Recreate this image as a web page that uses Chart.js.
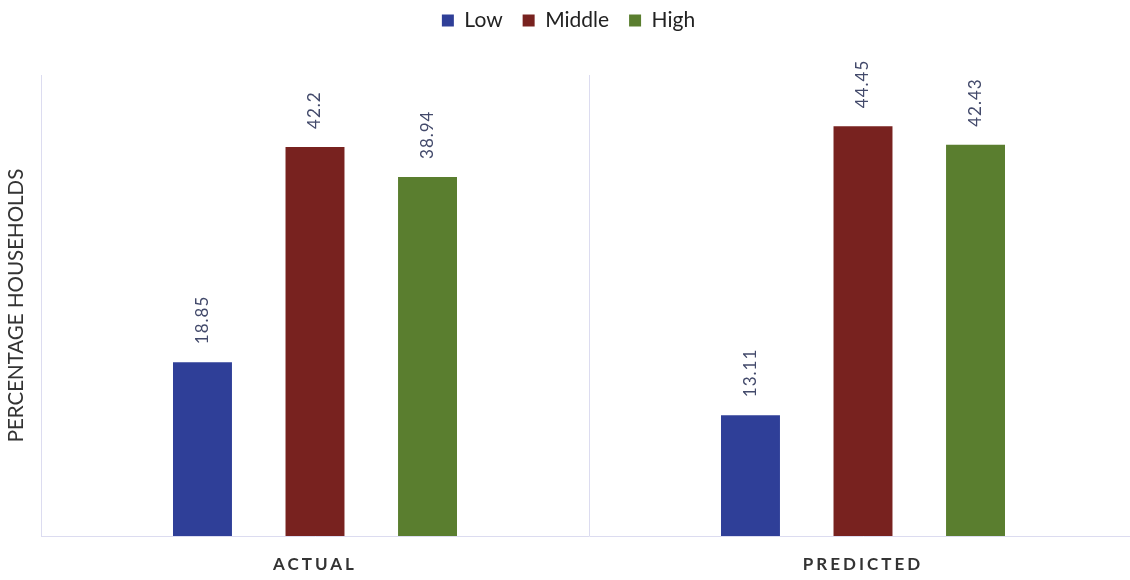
<!DOCTYPE html>
<html>
<head>
<meta charset="utf-8">
<script src="https://cdn.jsdelivr.net/npm/chart.js@4"></script>
<style>
  html, body { margin: 0; padding: 0; background: #fff; overflow: hidden; }
  #wrap { width: 1140px; height: 580px; }
</style>
</head>
<body>
<div id="wrap"><canvas id="dataChart" width="1140" height="580"></canvas></div>
<script>
// values
const groups = ["ACTUAL", "PREDICTED"];
const lowValues = [18.85, 13.11];
const middleValues = [42.2, 44.45];
const highValues = [38.94, 42.43];
const yMin = 0;
const yMax = 50;

const fontName = "Lato, 'Open Sans', sans-serif";

// rotated value labels above every bar
const barLabels = {
  id: "barLabels",
  afterDatasetsDraw(chart) {
    const ctx = chart.ctx;
    ctx.save();
    ctx.letterSpacing = "1px";
    ctx.font = "17px " + fontName;
    ctx.fillStyle = "#434a6b";
    ctx.textAlign = "left";
    ctx.textBaseline = "middle";
    chart.data.datasets.forEach((ds, i) => {
      chart.getDatasetMeta(i).data.forEach((bar, j) => {
        ctx.save();
        ctx.translate(bar.x, bar.y - 18);
        ctx.rotate(-Math.PI / 2);
        ctx.fillText(String(ds.data[j]), 0, 0);
        ctx.restore();
      });
    });
    ctx.restore();
    // x tick labels are drawn after this (ticks z = 1) and are letter spaced
    ctx.letterSpacing = "3px";
  },
  afterDraw(chart) {
    chart.ctx.letterSpacing = "0px";
  }
};

// more room between the legend and the plot
const legendGap = {
  id: "legendGap",
  beforeInit(chart) {
    const fit = chart.legend.fit;
    chart.legend.fit = function () {
      fit.bind(chart.legend)();
      this.height += 34;
    };
  }
};

const ctx = document.getElementById("dataChart").getContext("2d");
new Chart(ctx, {
  type: "bar",
  data: {
    labels: groups,
    datasets: [
      { label: "Low", data: lowValues, backgroundColor: "#2f3f98" },
      { label: "Middle", data: middleValues, backgroundColor: "#78221f" },
      { label: "High", data: highValues, backgroundColor: "#5a7e2f" }
    ]
  },
  options: {
    responsive: false,
    animation: false,
    categoryPercentage: 0.616,
    barPercentage: 0.524,
    layout: { padding: { top: -10, right: 3, left: 0, bottom: 0 } },
    plugins: {
      legend: {
        position: "top",
        labels: {
          boxWidth: 12,
          boxHeight: 12,
          padding: 20,
          color: "#222",
          font: { family: fontName, size: 21 }
        }
      },
      tooltip: { enabled: false }
    },
    scales: {
      x: {
        grid: { display: true, color: "#dcdcf0", drawTicks: false, offset: true },
        border: { display: true, color: "#dcdcf0" },
        ticks: {
          z: 1,
          color: "#333",
          padding: 18,
          font: { family: fontName, size: 17, weight: "bold" }
        },
        afterFit(scale) {
          scale.height = 44;
        }
      },
      y: {
        min: yMin,
        max: yMax,
        grid: { display: false },
        border: { display: true, color: "#dcdcf0" },
        ticks: { display: false },
        title: {
          display: true,
          text: "PERCENTAGE HOUSEHOLDS",
          color: "#333",
          font: { family: fontName, size: 20.5 }
        },
        afterFit(scale) {
          scale.width = 41;
        }
      }
    }
  },
  plugins: [barLabels, legendGap]
});
</script>
</body>
</html>
